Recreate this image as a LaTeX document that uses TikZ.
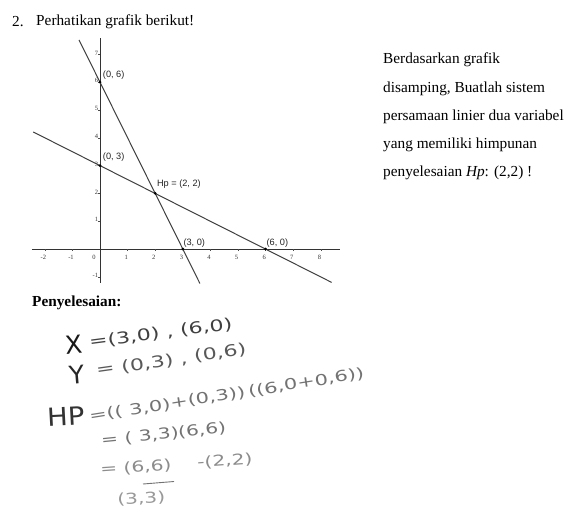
\documentclass[tikz,border=0pt]{standalone}
\usepackage{fontspec}
\setmainfont{Liberation Serif}
\newfontfamily\graphfont{Liberation Sans}
\newfontfamily\handfont{DejaVu Sans}
\begin{document}
\begin{tikzpicture}[x=1pt,y=-1pt]
\tikzset{
  body/.style={font=\fontsize{15.3}{17}\selectfont, anchor=west, inner sep=0pt},
  axisline/.style={line width=1pt, draw=black!80},
  graphline/.style={line width=1pt, draw=black!75},
  ptlabel/.style={font=\graphfont\fontsize{9.2}{11}\selectfont, inner sep=0pt, text=black!85},
  ticklabel/.style={font=\fontsize{6.5}{7}\selectfont, inner sep=0pt, text=black!80},
  dot/.style={circle, fill=black, inner sep=0pt, minimum size=3pt},
  hand/.style={font=\handfont\fontsize{16}{18}\selectfont, anchor=west, inner sep=0pt},
  handsm/.style={hand, font=\handfont\fontsize{15}{17}\selectfont},
  handbig/.style={hand, font=\handfont\fontsize{25}{27}\selectfont},
}
\useasboundingbox (0,0) rectangle (572,511);
\fill[white] (0,0) rectangle (572,511);

% title
\node[body] (num) at (12,22) {2.};
\node[body] (title) at (36,22) {Perhatikan grafik berikut!};

% right text
\node[body] (r1) at (383,60) {Berdasarkan grafik};
\node[body] (r2) at (383,88.5) {disamping, Buatlah sistem};
\node[body] (r3) at (383,117) {persamaan linier dua variabel};
\node[body] (r4) at (383,144.5) {yang memiliki himpunan};
\node[body] (r5) at (383,172.5) {penyelesaian \textit{Hp}: (2,2) !};

% graph
\begin{scope}[shift={(100,249)}, x=27.6pt, y=27.8pt]
  \coordinate (xl) at (-2.47,0);
  \coordinate (xr) at (8.7,0);
  \coordinate (yb) at (0,-1.22);
  \coordinate (yt) at (0,7.6);
  \draw[axisline] (xl) -- (xr);
  \draw[axisline] (yb) -- (yt);
  \foreach \k in {-2,-1,1,2,3,4,5,6,7,8} {
    \draw[line width=0.4pt, black!70] (\k,0) -- (\k,-0.07);
    \node[ticklabel] at (\k-0.05,-0.3) {\k};
  }
  \node[ticklabel] at (-0.22,-0.3) {0};
  \foreach \k in {-1,1,2,3,4,5,6,7} {
    \draw[line width=0.4pt, black!70] (0,\k) -- (-0.07,\k);
    \node[ticklabel, anchor=east] at (-0.06,\k+0.05) {\k};
  }
  \coordinate (l1a) at (-0.76,7.52);
  \coordinate (l1b) at (3.62,-1.24);
  \coordinate (l2a) at (-2.42,4.21);
  \coordinate (l2b) at (8.39,-1.2);
  \draw[graphline] (l1a) -- (l1b);
  \draw[graphline] (l2a) -- (l2b);
  \node[dot] (p06) at (0,6) {};
  \node[dot] (p03) at (0,3) {};
  \node[dot] (p22) at (2,2) {};
  \node[dot] (p30) at (3,0) {};
  \node[dot] (p60) at (6,0) {};
  \node[ptlabel, anchor=west] (t06) at (0.1,6.27) {(0, 6)};
  \node[ptlabel, anchor=west] (t03) at (0.1,3.32) {(0, 3)};
  \node[ptlabel, anchor=west] (t22) at (2.06,2.34) {Hp = (2, 2)};
  \node[ptlabel, anchor=west] (t30) at (3.02,0.22) {(3, 0)};
  \node[ptlabel, anchor=west] (t60) at (6.03,0.22) {(6, 0)};
\end{scope}

% solution
\node[body, font=\bfseries\fontsize{15.3}{17}\selectfont] (sol) at (32,303) {Penyelesaian:};

\node[handbig, text=black!90, rotate=5] (hx) at (65,345) {X};
\node[hand, text=black!75, rotate=7.5, xscale=1.38] (hxa) at (89,343) {=(3,0) ,};
\node[hand, text=black!75, rotate=7.5, xscale=1.38] (hxb) at (180,331) {(6,0)};
\node[handbig, text=black!85, rotate=5] (hy) at (69,375) {Y};
\node[hand, text=black!65, rotate=8, xscale=1.38] (hya) at (96,371) {= (0,3) ,};
\node[hand, text=black!65, rotate=8, xscale=1.38] (hyb) at (194,357) {(0,6)};
\node[handbig, text=black!80, rotate=3, xscale=1.1] (hp) at (47,417) {HP};
\node[handsm, text=black!55, rotate=9, xscale=1.4] (hpa) at (89,417) {=(( 3,0)+(0,3))};
\node[handsm, text=black!55, rotate=9, xscale=1.4] (hpb) at (248,392) {((6,0+0,6))};
\node[handsm, text=black!55, rotate=5.7, xscale=1.35] (h3a) at (101,441) {= ( 3,3)};
\node[handsm, text=black!55, rotate=5.7, xscale=1.35] (h3b) at (178,433) {(6,6)};
\node[handsm, text=black!45, rotate=4, xscale=1.35] (h4) at (100,470) {= (6,6)};
\node[handsm, text=black!45, rotate=4, xscale=1.35] (h5) at (197,463) {-(2,2)};
\coordinate (ua) at (143,484);
\coordinate (ub) at (174,481.5);
\draw[black!55, line width=0.9pt] (ua) -- (ub);
\node[handsm, text=black!40, rotate=3, xscale=1.35] (h6) at (117,500) {(3,3)};
\end{tikzpicture}
\end{document}
